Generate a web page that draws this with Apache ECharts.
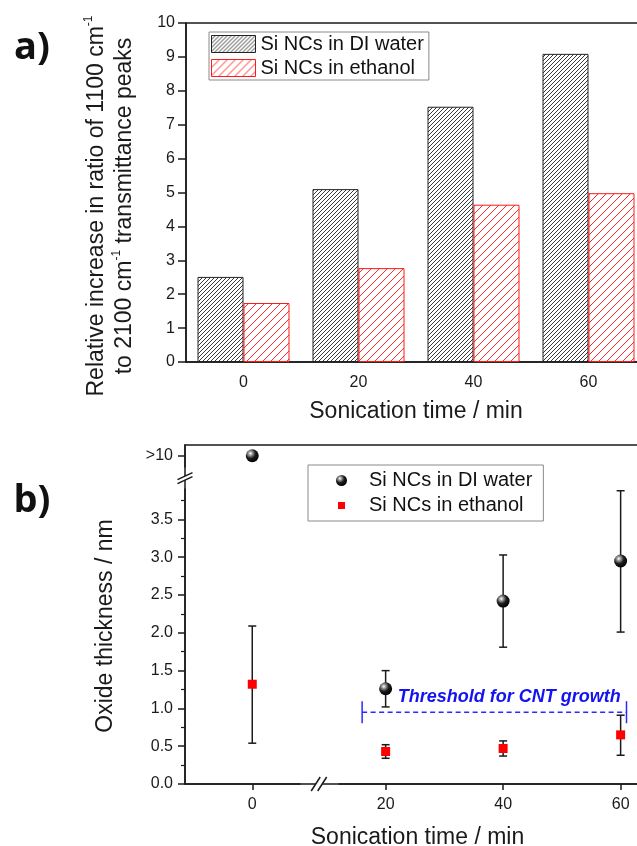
<!DOCTYPE html>
<html>
<head>
<meta charset="utf-8">
<script src="https://cdn.jsdelivr.net/npm/echarts@6/dist/echarts.min.js"></script>
<style>
  html, body { margin: 0; padding: 0; background: #fff; }
  #chart { width: 637px; height: 846px; }
</style>
</head>
<body>
<div id="chart"></div>
<script>
// Sonication times (min) and their tick labels
const sonicationTimes = [0, 20, 40, 60];
const timeLabels = ['0', '20', '40', '60'];

// (a) relative increase in the 1100 / 2100 cm-1 transmittance peak ratio
const ratioWater = [2.51, 5.10, 7.53, 9.09];
const ratioEthanol = [1.74, 2.77, 4.64, 4.98];

// (b) oxide thickness in nm; the 0 min water sample is off-scale (>10 nm)
const oxideWater = [10, 1.26, 2.42, 2.95];
const oxideWaterLow = [null, 1.02, 1.81, 2.01];
const oxideWaterHigh = [null, 1.50, 3.03, 3.88];
const oxideEthanol = [1.32, 0.43, 0.47, 0.65];
const oxideEthanolLow = [0.54, 0.34, 0.37, 0.38];
const oxideEthanolHigh = [2.09, 0.52, 0.57, 0.91];

// oxide axis ticks: labelled values (10 stands for ">10") and minor ticks
const oxideTickValues = [0, 0.5, 1, 1.5, 2, 2.5, 3, 3.5, 10];
const oxideMinorTicks = [0.25, 0.75, 1.25, 1.75, 2.25, 2.75, 3.25, 3.75];

// threshold oxide thickness for CNT growth, drawn across 20-60 min
const thresholdValue = 0.95;
const thresholdSpan = [16, 61];
const thresholdLabel = 'Threshold for CNT growth';

const seriesLabels = {
  water: 'Si NCs in DI water',
  ethanol: 'Si NCs in ethanol'
};

const FONT = '"Liberation Sans", Arial, Helvetica, sans-serif';
const INK = '#1a1a1a';
const lineStyle = { color: INK, width: 1.5 };

// diagonal "/" hatching tiles for the bars
function hatchTile(size, stroke, width) {
  const c = document.createElement('canvas');
  c.width = size; c.height = size;
  const g = c.getContext('2d');
  g.fillStyle = '#ffffff';
  g.fillRect(0, 0, size, size);
  g.strokeStyle = stroke;
  g.lineWidth = width;
  g.beginPath();
  g.moveTo(-1, size + 1); g.lineTo(size + 1, -1);
  g.moveTo(-1, 1); g.lineTo(1, -1);
  g.moveTo(size - 1, size + 1); g.lineTo(size + 1, size - 1);
  g.stroke();
  return c;
}
const waterHatch = { image: hatchTile(4, '#3a3a3a', 1), repeat: 'repeat' };
const ethanolHatch = { image: hatchTile(8, '#ff2a2a', 1), repeat: 'repeat' };

const sphere = {
  type: 'radial', x: 0.36, y: 0.32, r: 0.7,
  colorStops: [
    { offset: 0, color: '#ffffff' },
    { offset: 0.22, color: '#9c9c9c' },
    { offset: 0.55, color: '#1c1c1c' },
    { offset: 1, color: '#000000' }
  ]
};

function pairs(xs, ys) {
  return xs.map((x, i) => [x, ys[i]]);
}
function errorRows(xs, lo, hi) {
  return xs.map((x, i) => [x, lo[i], hi[i]]).filter(r => r[1] != null);
}

function renderErrorBar(params, api) {
  const x = api.value(0);
  const pLo = api.coord([x, api.value(1)]);
  const pHi = api.coord([x, api.value(2)]);
  const cap = 4;
  const st = { stroke: INK, lineWidth: 1.5 };
  return {
    type: 'group',
    children: [
      { type: 'line', shape: { x1: pLo[0], y1: pLo[1], x2: pHi[0], y2: pHi[1] }, style: st },
      { type: 'line', shape: { x1: pLo[0] - cap, y1: pLo[1], x2: pLo[0] + cap, y2: pLo[1] }, style: st },
      { type: 'line', shape: { x1: pHi[0] - cap, y1: pHi[1], x2: pHi[0] + cap, y2: pHi[1] }, style: st }
    ]
  };
}

function renderThreshold(params, api) {
  const x0 = api.value(0), x1 = api.value(1), v = api.value(2);
  const a = api.coord([x0, v]);
  const b = api.coord([x1, v]);
  const blue = '#2a2aff';
  const capH = 11;
  return {
    type: 'group',
    children: [
      { type: 'line', shape: { x1: a[0], y1: a[1], x2: b[0], y2: b[1] },
        style: { stroke: blue, lineWidth: 1.5, lineDash: [5, 3.5] } },
      { type: 'line', shape: { x1: a[0], y1: a[1] - capH, x2: a[0], y2: a[1] + capH },
        style: { stroke: blue, lineWidth: 1.5 } },
      { type: 'line', shape: { x1: b[0], y1: b[1] - capH, x2: b[0], y2: b[1] + capH },
        style: { stroke: blue, lineWidth: 1.5 } },
      { type: 'text', x: (a[0] + b[0]) / 2 + 15, y: a[1] - 15,
        style: { text: thresholdLabel, fill: '#1414f0', font: 'italic bold 18px ' + FONT,
                 align: 'center', verticalAlign: 'middle' } }
    ]
  };
}

const chart = echarts.init(document.getElementById('chart'), null, { renderer: 'canvas' });

const oxideAxisBase = {
  gridIndex: 1, type: 'value', min: 0, max: 10.142,
  breaks: [{ start: 3.9, end: 9.85, gap: 0.293 }],
  breakArea: { show: false },
  splitLine: { show: false }
};

const option = {
  backgroundColor: '#ffffff',
  animation: false,
  textStyle: { fontFamily: FONT },
  grid: [
    { left: 186, top: 23, width: 460, height: 339, show: true, borderColor: INK, borderWidth: 1.5,
      outerBoundsMode: 'none', containLabel: false },
    { left: 185, top: 445, width: 465, height: 339, show: true, borderColor: INK, borderWidth: 1.5,
      outerBoundsMode: 'none', containLabel: false }
  ],
  legend: [
    {
      data: [seriesLabels.water, seriesLabels.ethanol],
      orient: 'vertical', left: 209, top: 32,
      padding: [2, 5, 2, 2], itemGap: 4,
      itemWidth: 44, itemHeight: 17, icon: 'rect',
      borderColor: '#8a8a8a', borderWidth: 1,
      itemStyle: { borderColor: 'inherit', borderWidth: 1 },
      textStyle: { fontSize: 20, lineHeight: 20, color: '#111', fontFamily: FONT },
      selectedMode: false
    },
    {
      data: [
        { name: 'oxideWater', icon: 'circle' },
        { name: 'oxideEthanol', icon: 'path://M0,0M45,11M19,2h7v7h-7z' }
      ],
      formatter: name => name === 'oxideWater' ? seriesLabels.water : seriesLabels.ethanol,
      orient: 'vertical', left: 308, top: 465,
      padding: [5.5, 11, 5.5, 11], itemGap: 5,
      itemWidth: 45, itemHeight: 11,
      borderColor: '#8a8a8a', borderWidth: 1,
      textStyle: { fontSize: 20, lineHeight: 20, color: '#111', fontFamily: FONT },
      selectedMode: false
    }
  ],
  xAxis: [
    {
      gridIndex: 0, type: 'category', data: timeLabels, boundaryGap: true,
      axisLine: { lineStyle },
      axisTick: { alignWithLabel: true, length: 6, lineStyle },
      axisLabel: { margin: 13, fontSize: 16, color: INK, fontFamily: FONT },
      splitLine: { show: false },
      name: 'Sonication time / min', nameLocation: 'middle', nameGap: 38,
      nameTextStyle: { fontSize: 23, color: INK, fontFamily: FONT }
    },
    {
      gridIndex: 1, type: 'value', min: -11.45, max: 65,
      breaks: [{ start: 8, end: 12, gap: 6.7 }],
      breakArea: { show: false },
      axisLine: { onZero: false, lineStyle },
      axisTick: { length: 6, lineStyle, customValues: sonicationTimes },
      axisLabel: { margin: 13, fontSize: 16, color: INK, fontFamily: FONT,
                   customValues: sonicationTimes },
      splitLine: { show: false },
      name: 'Sonication time / min', nameLocation: 'middle', nameGap: 42,
      nameTextStyle: { fontSize: 23, color: INK, fontFamily: FONT }
    }
  ],
  yAxis: [
    {
      gridIndex: 0, type: 'value', min: 0, max: 10, interval: 1,
      axisLine: { show: true, onZero: false, lineStyle },
      axisTick: { show: true, length: 8, lineStyle },
      axisLabel: { margin: 11, fontSize: 16, color: INK, fontFamily: FONT },
      splitLine: { show: false }
    },
    Object.assign({}, oxideAxisBase, {
      axisLine: { show: true, onZero: false, lineStyle },
      axisTick: { show: true, length: 7, lineStyle, customValues: oxideTickValues },
      axisLabel: {
        margin: 12, fontSize: 16, color: INK, fontFamily: FONT,
        customValues: oxideTickValues,
        formatter: v => (v >= 10 ? '>10' : v.toFixed(1))
      }
    }),
    // minor ticks of the oxide axis
    Object.assign({}, oxideAxisBase, {
      position: 'left',
      axisLine: { show: false, onZero: false },
      axisTick: { show: true, length: 4, lineStyle: { color: INK, width: 1.2 },
                  customValues: oxideMinorTicks },
      axisLabel: { show: false }
    })
  ],
  series: [
    {
      name: seriesLabels.water, type: 'bar', xAxisIndex: 0, yAxisIndex: 0,
      data: ratioWater, barWidth: '40%', barGap: '0%',
      itemStyle: { color: waterHatch, borderColor: '#222', borderWidth: 1 }
    },
    {
      name: seriesLabels.ethanol, type: 'bar', xAxisIndex: 0, yAxisIndex: 0,
      data: ratioEthanol, barWidth: '40%', barGap: '0%',
      itemStyle: { color: ethanolHatch, borderColor: '#ff1a1a', borderWidth: 1 }
    },
    {
      name: 'oxideWaterError', type: 'custom', xAxisIndex: 1, yAxisIndex: 1,
      data: errorRows(sonicationTimes, oxideWaterLow, oxideWaterHigh),
      renderItem: renderErrorBar, z: 2, silent: true
    },
    {
      name: 'oxideEthanolError', type: 'custom', xAxisIndex: 1, yAxisIndex: 1,
      data: errorRows(sonicationTimes, oxideEthanolLow, oxideEthanolHigh),
      renderItem: renderErrorBar, z: 2, silent: true
    },
    {
      name: 'threshold', type: 'custom', xAxisIndex: 1, yAxisIndex: 1,
      data: [[thresholdSpan[0], thresholdSpan[1], thresholdValue]],
      renderItem: renderThreshold, z: 2, silent: true
    },
    {
      name: 'oxideWater', type: 'scatter', xAxisIndex: 1, yAxisIndex: 1,
      data: pairs(sonicationTimes, oxideWater), symbol: 'circle', symbolSize: 13,
      itemStyle: { color: sphere, opacity: 1 }, z: 4
    },
    {
      name: 'oxideEthanol', type: 'scatter', xAxisIndex: 1, yAxisIndex: 1,
      data: pairs(sonicationTimes, oxideEthanol), symbol: 'rect', symbolSize: 9,
      itemStyle: { color: '#ff0000', opacity: 1 }, z: 4
    }
  ]
};

chart.setOption(option);

// axis-break marks ("//") and panel text
function breakMark(cx, cy, dx, dy, sep, horizontalAxis) {
  const els = [];
  els.push({
    type: 'rect', z: 100,
    shape: horizontalAxis
      ? { x: cx - sep / 2, y: cy - 3, width: sep, height: 6 }
      : { x: cx - 3, y: cy - sep / 2, width: 6, height: sep },
    style: { fill: '#ffffff' }
  });
  [-sep / 2, sep / 2].forEach(o => {
    const ox = horizontalAxis ? o : 0;
    const oy = horizontalAxis ? 0 : o;
    els.push({
      type: 'line', z: 101,
      shape: { x1: cx + ox - dx, y1: cy + oy + dy, x2: cx + ox + dx, y2: cy + oy - dy },
      style: { stroke: INK, lineWidth: 1.5 }
    });
  });
  return els;
}

const xBreakLo = chart.convertToPixel({ gridIndex: 1 }, [8, 0]);
const xBreakHi = chart.convertToPixel({ gridIndex: 1 }, [12, 0]);
const yBreakLo = chart.convertToPixel({ gridIndex: 1 }, [-11.45, 3.9]);
const yBreakHi = chart.convertToPixel({ gridIndex: 1 }, [-11.45, 9.85]);

const graphics = []
  .concat(breakMark((xBreakLo[0] + xBreakHi[0]) / 2, xBreakLo[1], 4.5, 7, 6.5, true))
  .concat(breakMark(yBreakLo[0], (yBreakLo[1] + yBreakHi[1]) / 2, 7.5, 3.5, 4, false))
  .concat([
    { type: 'text', x: 32, y: 48, z: 50,
      style: { text: 'a)', font: 'bold 38px "Open Sans", ' + FONT, fill: '#111',
               align: 'center', verticalAlign: 'middle' } },
    { type: 'text', x: 32, y: 501, z: 50,
      style: { text: 'b)', font: 'bold 38px "Open Sans", ' + FONT, fill: '#111',
               align: 'center', verticalAlign: 'middle' } },
    { type: 'text', x: 111, y: 206, rotation: Math.PI / 2, z: 50,
      style: {
        text: '{n|Relative increase in ratio of 1100 cm}{s|-1}\n{n|to 2100 cm}{s|-1}{n| transmittance peaks}',
        align: 'center', verticalAlign: 'middle',
        rich: {
          n: { fontSize: 23, lineHeight: 28, fontFamily: FONT, fill: INK },
          s: { fontSize: 12, lineHeight: 14, fontFamily: FONT, fill: INK, verticalAlign: 'top' }
        }
      } },
    { type: 'text', x: 106, y: 626, rotation: Math.PI / 2, z: 50,
      style: { text: 'Oxide thickness / nm', font: '23px ' + FONT, fill: INK,
               align: 'center', verticalAlign: 'middle' } }
  ]);

chart.setOption({ graphic: graphics });
</script>
</body>
</html>
